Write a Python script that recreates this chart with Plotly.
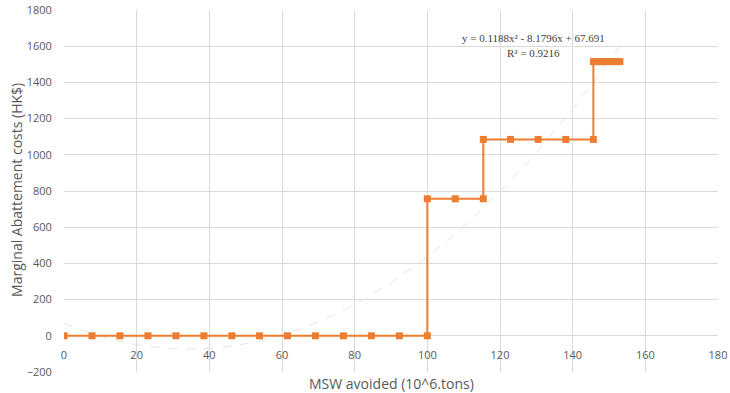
import numpy as np
import plotly.graph_objects as go

# Step-curve data
msw_avoided = [0, 7.7, 15.4, 23.1, 30.8, 38.5, 46.2, 53.8, 61.5, 69.2, 76.9, 84.6, 92.3, 100,
               100, 107.7, 115.4,
               115.4, 122.9, 130.5, 138.1, 145.7,
               145.7, 146.5, 147.3, 148.1, 149.0, 149.8, 150.6, 151.4, 152.2, 153.0]
abatement_cost = [0, 0, 0, 0, 0, 0, 0, 0, 0, 0, 0, 0, 0, 0,
                  757, 757, 757,
                  1085, 1085, 1085, 1085, 1085,
                  1515, 1515, 1515, 1515, 1515, 1515, 1515, 1515, 1515, 1515]

# Polynomial trendline coefficients (as printed on the chart)
trend_a, trend_b, trend_c = 0.1188, -8.1796, 67.691
trend_x_start, trend_x_end = 0, 153.0
r_squared = 0.9216

x_ticks = [0, 20, 40, 60, 80, 100, 120, 140, 160, 180]
y_ticks = [-200, 0, 200, 400, 600, 800, 1000, 1200, 1400, 1600, 1800]

tx = np.linspace(trend_x_start, trend_x_end, 200)
ty = trend_a * tx ** 2 + trend_b * tx + trend_c

FONT = "Open Sans"
GRAY = "#595959"
GRID = "#d9d9d9"
ORANGE = "#ED7D31"

fig = go.Figure()
fig.add_trace(go.Scatter(x=tx, y=ty, mode="lines",
                         line=dict(color="#e3e3e3", width=1, dash="dash"),
                         hoverinfo="skip", showlegend=False))
fig.add_trace(go.Scatter(x=msw_avoided, y=abatement_cost, mode="lines+markers",
                         line=dict(color=ORANGE, width=2),
                         marker=dict(symbol="square", size=7, color=ORANGE),
                         showlegend=False))

fig.update_layout(
    width=730, height=393,
    margin=dict(l=64, r=12, t=10, b=21),
    paper_bgcolor="white", plot_bgcolor="white",
    font=dict(family=FONT, color=GRAY, size=11),
    xaxis=dict(range=[0, 180], tickvals=x_ticks, showgrid=True, gridcolor=GRID, gridwidth=1,
               zeroline=False, showline=False, anchor="free", position=0.1, automargin=False,
               ticks="outside", ticklen=9, tickcolor="rgba(0,0,0,0)",
               tickfont=dict(family=FONT, size=11, color=GRAY)),
    yaxis=dict(range=[-200, 1800], tickvals=y_ticks, showgrid=True, gridcolor=GRID, gridwidth=1,
               zeroline=False, showline=False, automargin=False,
               ticks="outside", ticklen=9, tickcolor="rgba(0,0,0,0)",
               tickfont=dict(family=FONT, size=11, color=GRAY)),
    annotations=[
        dict(text="MSW avoided (10^6.tons)", xref="paper", yref="paper", x=0.5, y=-0.033,
             xanchor="center", yanchor="middle", showarrow=False,
             font=dict(family=FONT, size=14, color=GRAY)),
        dict(text="Marginal Abattement costs (HK$)", xref="paper", yref="paper",
             x=-47 / 654, y=0.503, textangle=-90, xanchor="center", yanchor="middle",
             showarrow=False, font=dict(family=FONT, size=14, color=GRAY)),
        dict(text="y = %.4fx² - %.4fx + %.3f" % (trend_a, -trend_b, trend_c),
             xref="paper", yref="paper", x=(533 - 64) / 654, y=(372 - 38) / 362,
             xanchor="center", yanchor="middle", showarrow=False,
             font=dict(family="Liberation Serif", size=11, color="#404040")),
        dict(text="R² = %.4f" % r_squared,
             xref="paper", yref="paper", x=(533 - 64) / 654, y=(372 - 53) / 362,
             xanchor="center", yanchor="middle", showarrow=False,
             font=dict(family="Liberation Serif", size=11, color="#404040")),
    ],
)

fig.write_html("out.html", config={"displayModeBar": False},
               post_script="document.body.style.margin='0px';")
